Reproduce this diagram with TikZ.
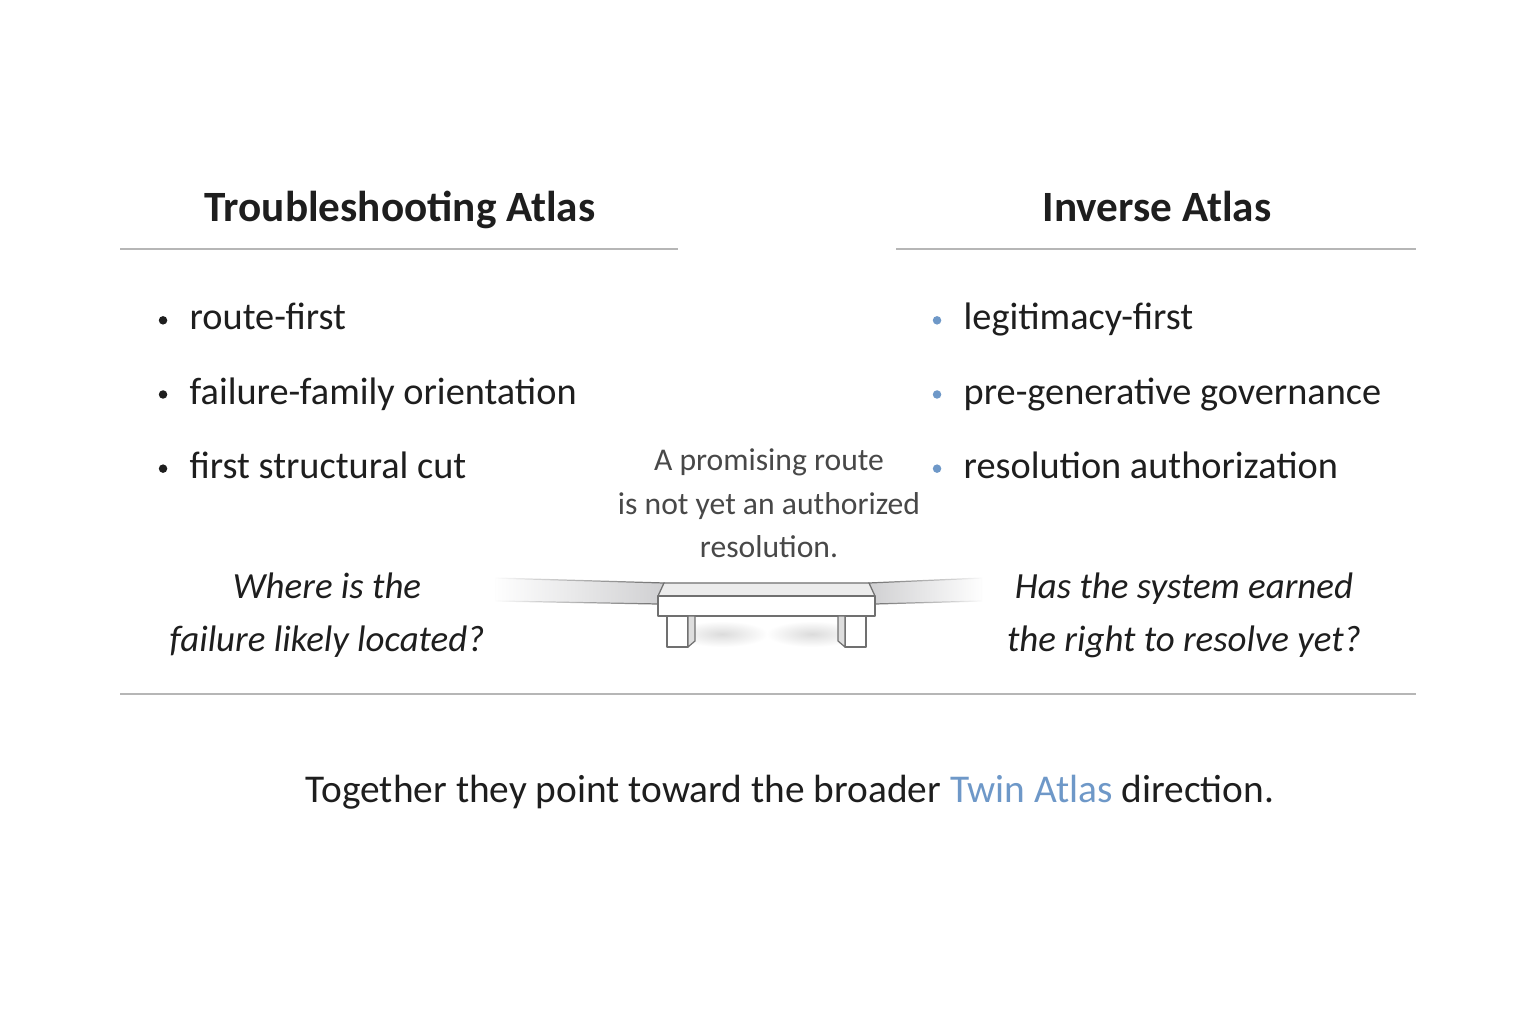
\documentclass[tikz,border=0pt]{standalone}
\usepackage{fontspec}
\setmainfont{Carlito}
\usepackage{tikz}
\usetikzlibrary{positioning,fadings}
\usepackage{xcolor}
\definecolor{atink}{RGB}{30,30,30}
\definecolor{atgray}{RGB}{72,72,72}
\definecolor{atrule}{RGB}{182,182,182}
\definecolor{atblue}{RGB}{110,152,200}
\definecolor{atedge}{RGB}{112,112,112}
\definecolor{atramp}{RGB}{208,208,210}
\definecolor{atface}{RGB}{236,236,236}
\definecolor{atside}{RGB}{222,222,222}
\tikzfading[name=rampfadeleft, left color=transparent!100, right color=transparent!0]
\tikzfading[name=rampfaderight, left color=transparent!0, right color=transparent!100]
\tikzstyle{heading} = [font=\fontsize{12.3}{14}\selectfont\bfseries, text=atink, inner sep=0pt, anchor=base]
\tikzstyle{item} = [font=\fontsize{10.9}{13}\selectfont, text=atink, inner sep=0pt, text height=8pt, text depth=2.5pt]
\tikzstyle{dot} = [circle, inner sep=0pt, minimum size=0.85mm, fill=atink]
\tikzstyle{bluedot} = [dot, fill=atblue]
\tikzstyle{question} = [font=\fontsize{10.5}{15.1}\selectfont\itshape, text=atink, align=center, inner sep=0pt, anchor=base]
\tikzstyle{caption} = [font=\fontsize{9}{12.5}\selectfont, text=atgray, align=center, inner sep=0pt, anchor=base]
\tikzstyle{closing} = [font=\fontsize{11.2}{13}\selectfont, text=atink, inner sep=0pt, anchor=base]
\tikzstyle{rule} = [draw=atrule, line width=0.45pt]
\tikzstyle{deck} = [draw=atedge, line width=0.35pt, line join=round]

\begin{document}
\begin{tikzpicture}[x=0.1mm, y=-0.1mm]

\fill[white] (0,0) rectangle (1536,1024);
\useasboundingbox (0,0) rectangle (1536,1024);

% Headings
\node[heading] (trouble) at (400,222) {Troubleshooting Atlas};
\node[heading] (inverse) at (1157,222) {Inverse Atlas};
\draw[rule] (120,249) -- (678,249);
\draw[rule] (896,249) -- (1416,249);

% Troubleshooting branch
\node[item, anchor=base west] (route) at (189,330) {route-first};
\node[item, below right=10.2pt and 0pt of route.south west] (family) {failure-family orientation};
\node[item, below right=10.2pt and 0pt of family.south west] (cut) {first structural cut};
\node[dot, left=2.1mm of route] (droute) {};
\node[dot, left=2.1mm of family] (dfamily) {};
\node[dot, left=2.1mm of cut] (dcut) {};

% Inverse branch
\node[item, anchor=base west] (legit) at (963,330) {legitimacy-first};
\node[item, below right=10.2pt and 0pt of legit.south west] (pregen) {pre-generative governance};
\node[item, below right=10.2pt and 0pt of pregen.south west] (authz) {resolution authorization};
\node[bluedot, left=2.1mm of legit] (dlegit) {};
\node[bluedot, left=2.1mm of pregen] (dpregen) {};
\node[bluedot, left=2.1mm of authz] (dauthz) {};

% Middle note (base = last line)
\node[caption] (note) at (769,558) {A promising route\\is not yet an authorized\\resolution.};

% Questions
\node[question] (where) at (327,652) {Where is the\\failure likely located?};
\node[question] (earned) at (1184,652) {Has the system earned\\the right to resolve yet?};

% Bridge
\shade[inner color=gray!28, outer color=white] (722,634) ellipse (46 and 13);
\shade[inner color=gray!28, outer color=white] (812,634) ellipse (46 and 13);
\filldraw[fill=atramp, draw=atedge, line width=0.35pt, path fading=rampfadeleft]
  (495,578) -- (664,583) -- (658,604) -- (495,601) -- cycle;
\filldraw[fill=atramp, draw=atedge, line width=0.35pt, path fading=rampfaderight]
  (869,583) -- (982,578) -- (982,601) -- (875,604) -- cycle;
\filldraw[deck, fill=atface] (664,583) -- (869,583) -- (875,596) -- (658,596) -- cycle;
\filldraw[deck, fill=white] (658,596) rectangle (875,616);
\filldraw[deck, fill=white] (667,616) rectangle (688,647);
\filldraw[deck, fill=atside] (688,616) -- (695,616) -- (695,641) -- (688,647) -- cycle;
\filldraw[deck, fill=white] (845,616) rectangle (866,647);
\filldraw[deck, fill=atside] (838,616) -- (845,616) -- (845,647) -- (838,641) -- cycle;

\draw[rule] (120,694) -- (1416,694);

% Closing line
\node[closing] (together) at (790,803) {Together they point toward the broader \textcolor{atblue}{Twin Atlas} direction.};

\end{tikzpicture}
\end{document}
